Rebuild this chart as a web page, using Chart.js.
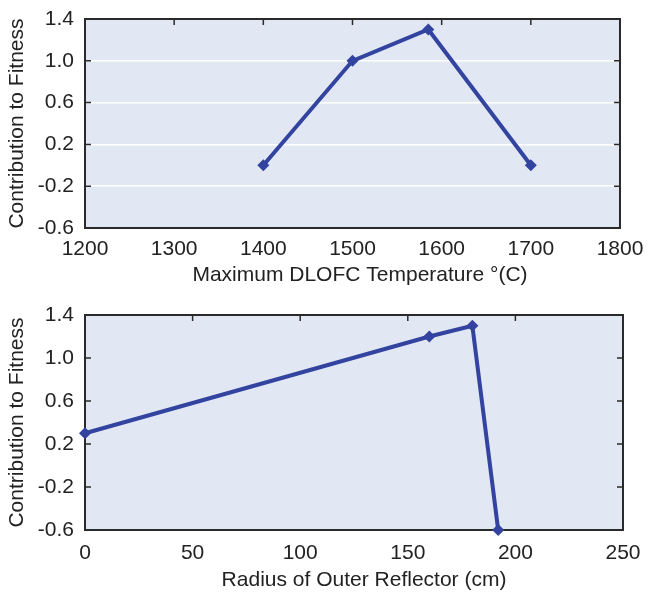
<!DOCTYPE html>
<html>
<head>
<meta charset="utf-8">
<script src="https://cdn.jsdelivr.net/npm/chart.js@4/dist/chart.umd.min.js"></script>
<style>
  html, body { margin: 0; padding: 0; background: #ffffff; }
  #wrap { position: relative; width: 649px; height: 597px; }
  .panel { position: absolute; left: 0; }
  canvas { display: block; }
</style>
</head>
<body>
<div id="wrap">
  <div class="panel" style="top:0"><canvas id="tempChart" width="649" height="300"></canvas></div>
  <div class="panel" style="top:300px"><canvas id="radiusChart" width="649" height="297"></canvas></div>
</div>
<script>
// Fitness contribution vs. maximum DLOFC temperature
const tempX = [1400, 1500, 1585, 1700];
const tempFit = [0.0, 1.0, 1.3, 0.0];
const tempTicks = [1200, 1300, 1400, 1500, 1600, 1700, 1800];

// Fitness contribution vs. outer reflector radius
const radiusX = [0, 160, 180, 192];
const radiusFit = [0.3, 1.2, 1.3, -0.6];
const radiusTicks = [0, 50, 100, 150, 200, 250];

const fitTicks = [-0.6, -0.2, 0.2, 0.6, 1.0, 1.4];

const FONT = '"Liberation Sans", Arial, Helvetica, sans-serif';
const INK = '#222222';
const LINE = '#3343a0';
const PANEL = '#e2e8f3';

Chart.defaults.font.family = FONT;
Chart.defaults.font.size = 21;
Chart.defaults.color = INK;

// Panel background, box frame, inward tick marks and a bottom axis caption
const framePlugin = {
  id: 'frame',
  beforeDraw(chart) {
    const a = chart.chartArea, ctx = chart.ctx;
    ctx.save();
    ctx.fillStyle = PANEL;
    ctx.fillRect(a.left, a.top, a.right - a.left, a.bottom - a.top);
    ctx.restore();
  },
  beforeDatasetsDraw(chart) {
    const a = chart.chartArea, ctx = chart.ctx;
    const xs = chart.scales.x, ys = chart.scales.y;
    const len = 6;
    ctx.save();
    ctx.strokeStyle = '#2a2a2a';
    ctx.lineWidth = 1.5;
    ctx.beginPath();
    ys.ticks.forEach(t => {
      const py = ys.getPixelForValue(t.value);
      ctx.moveTo(a.left, py); ctx.lineTo(a.left + len, py);
      ctx.moveTo(a.right, py); ctx.lineTo(a.right - len, py);
    });
    xs.ticks.forEach(t => {
      const px = xs.getPixelForValue(t.value);
      ctx.moveTo(px, a.top); ctx.lineTo(px, a.top + len);
    });
    ctx.stroke();
    ctx.lineWidth = 2;
    ctx.strokeRect(a.left, a.top, a.right - a.left, a.bottom - a.top);
    ctx.restore();
  },
  afterDraw(chart, args, opts) {
    if (!opts.caption) return;
    const xs = chart.scales.x, ctx = chart.ctx;
    ctx.save();
    ctx.font = '21px ' + FONT;
    ctx.fillStyle = INK;
    ctx.textAlign = 'center';
    ctx.textBaseline = 'middle';
    ctx.fillText(opts.caption, (xs.left + xs.right) / 2 + opts.dx, opts.y);
    ctx.restore();
  }
};

function makeChart(id, xs, ys, xTicks, cfg) {
  return new Chart(document.getElementById(id), {
    type: 'line',
    data: {
      datasets: [{
        data: xs.map((x, i) => ({ x: x, y: ys[i] })),
        borderColor: LINE,
        backgroundColor: LINE,
        borderWidth: 4,
        pointStyle: 'rectRot',
        pointRadius: 6,
        pointBorderWidth: 0,
        pointBackgroundColor: LINE,
        tension: 0,
        clip: false
      }]
    },
    options: {
      responsive: false,
      animation: false,
      devicePixelRatio: 1,
      layout: { padding: { left: 0, top: cfg.top, right: cfg.right, bottom: 0 } },
      plugins: {
        legend: { display: false },
        tooltip: { enabled: false },
        frame: { caption: cfg.caption, dx: cfg.captionDx, y: cfg.captionY }
      },
      scales: {
        x: {
          type: 'linear',
          min: xTicks[0],
          max: xTicks[xTicks.length - 1],
          afterBuildTicks: s => { s.ticks = xTicks.map(v => ({ value: v })); },
          ticks: {
            padding: 0,
            maxRotation: 0,
            color: INK,
            font: { size: 21 },
            callback: v => String(v)
          },
          grid: {
            display: true,
            drawOnChartArea: false,
            drawTicks: true,
            tickLength: cfg.xPad,
            tickColor: 'transparent',
            color: 'transparent'
          },
          border: { display: false },
          afterFit: s => { s.height = cfg.xHeight; }
        },
        y: {
          type: 'linear',
          min: fitTicks[0],
          max: fitTicks[fitTicks.length - 1],
          afterBuildTicks: s => { s.ticks = fitTicks.map(v => ({ value: v })); },
          ticks: {
            padding: 0,
            color: INK,
            font: { size: 21 },
            callback: v => v.toFixed(1)
          },
          grid: {
            display: true,
            drawTicks: true,
            tickLength: 11,
            tickColor: 'transparent',
            color: cfg.grid ? '#ffffff' : 'transparent',
            lineWidth: 1.5
          },
          border: { display: false },
          title: {
            display: true,
            text: 'Contribution to Fitness',
            color: INK,
            font: { size: 21 },
            padding: { top: 5, bottom: 0 }
          },
          afterFit: s => { s.width = 85; }
        }
      }
    },
    plugins: [framePlugin]
  });
}

makeChart('tempChart', tempX, tempFit, tempTicks, {
  top: 19, right: 29, xHeight: 72, xPad: 9, grid: true,
  caption: 'Maximum DLOFC Temperature °(C)', captionDx: 7.5, captionY: 275
});

makeChart('radiusChart', radiusX, radiusFit, radiusTicks, {
  top: 15, right: 26, xHeight: 67, xPad: 11, grid: false,
  caption: 'Radius of Outer Reflector (cm)', captionDx: 10, captionY: 280
});
</script>
</body>
</html>
